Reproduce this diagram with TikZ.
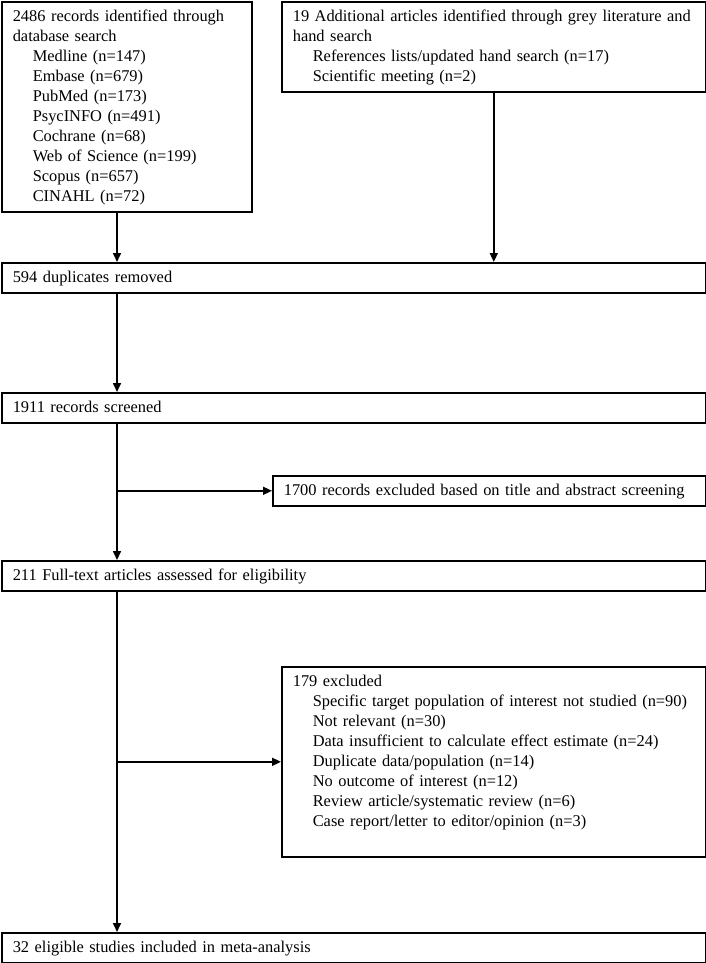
\documentclass[tikz,border=0pt]{standalone}
\usepackage{fontspec}
\setmainfont{Liberation Serif}
\usepackage{tikz}
\usetikzlibrary{arrows.meta}
\usetikzlibrary{positioning}
\newcommand{\indentry}{\hspace*{20pt}}
\tikzset{
    flowbox/.style={draw=black, line width=1.6pt, rectangle, anchor=north west,
        align=left, inner xsep=11pt, inner ysep=0pt,
        font=\fontsize{16.4pt}{20pt}\selectfont,
        execute at begin node={\rule{0pt}{20pt}},
        execute at end node={\rule[-10pt]{0pt}{10pt}}},
    wide/.style={flowbox, text width=682pt},
    flow/.style={draw=black, line width=1.6pt, -{Triangle[length=9pt,width=8pt]}}
}
\begin{document}
\begin{tikzpicture}[x=1pt,y=-1pt]
	\useasboundingbox (0,0) rectangle (706,963);
	\node[flowbox, text width=228pt] (srch) at (1,1) {2486 records identified through\\
		database search\\
		\indentry Medline (n=147)\\
		\indentry Embase (n=679)\\
		\indentry PubMed (n=173)\\
		\indentry PsycINFO (n=491)\\
		\indentry Cochrane (n=68)\\
		\indentry Web of Science (n=199)\\
		\indentry Scopus (n=657)\\
		\indentry CINAHL (n=72)};
	\node[flowbox, text width=402pt] (grey) at (281,1) {19 Additional articles identified through grey literature and\\
		hand search\\
		\indentry References lists/updated hand search (n=17)\\
		\indentry Scientific meeting (n=2)};
	\node[wide] (dupl) at (1,262) {594 duplicates removed};
	\node[wide] (scrn) at (1,392) {1911 records screened};
	\node[flowbox, text width=411pt] (excla) at (272,475) {1700 records excluded based on title and abstract screening};
	\node[wide] (full) at (1,560) {211 Full-text articles assessed for eligibility};
	\node[flowbox, text width=402pt] (exclb) at (281,666) {179 excluded\\
		\indentry Specific target population of interest not studied (n=90)\\
		\indentry Not relevant (n=30)\\
		\indentry Data insufficient to calculate effect estimate (n=24)\\
		\indentry Duplicate data/population (n=14)\\
		\indentry No outcome of interest (n=12)\\
		\indentry Review article/systematic review (n=6)\\
		\indentry Case report/letter to editor/opinion (n=3)\\
		\mbox{}};
	\node[wide] (incl) at (1,932) {32 eligible studies included in meta-analysis};
	\coordinate (col) at (117,0);
	\draw[flow] (col |- srch.south) -- (col |- dupl.north);
	\draw[flow] (grey.south) -- (grey.south |- dupl.north);
	\draw[flow] (col |- dupl.south) -- (col |- scrn.north);
	\draw[flow] (col |- scrn.south) -- (col |- full.north);
	\draw[flow] (col |- excla.west) -- (excla.west);
	\draw[flow] (col |- full.south) -- (col |- incl.north);
	\draw[flow] (col |- exclb.west) -- (exclb.west);
\end{tikzpicture}
\end{document}
